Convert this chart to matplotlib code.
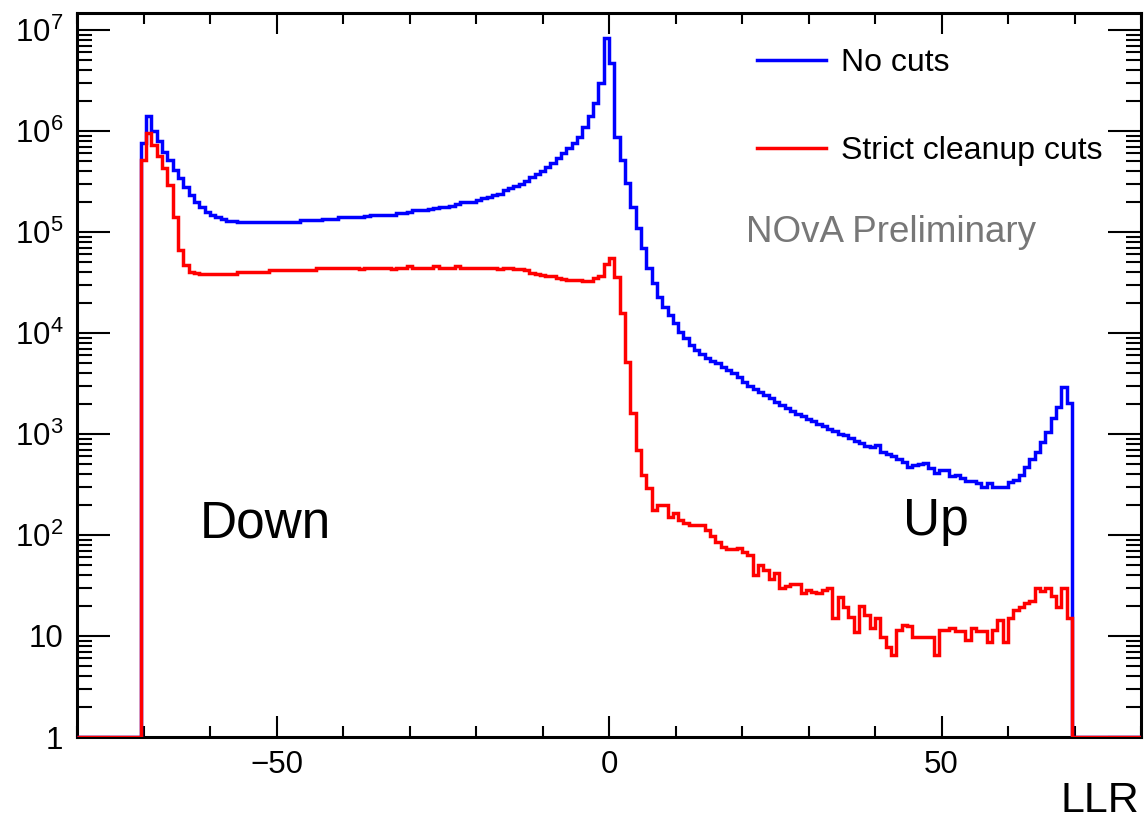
import matplotlib
matplotlib.use('Agg')
import matplotlib.pyplot as plt
import numpy as np
from matplotlib.lines import Line2D
from matplotlib.ticker import FixedLocator, FixedFormatter, LogLocator, NullFormatter

plt.rcParams['font.family'] = ['Liberation Sans', 'DejaVu Sans']
plt.rcParams['mathtext.fontset'] = 'custom'
plt.rcParams['mathtext.rm'] = 'Liberation Sans'
plt.rcParams['mathtext.it'] = 'Liberation Sans:italic'

# Binning: 200 bins of width 0.8 between -80 and 80, filled from bin 12 (-70.4) on
x_min, x_max, n_bins = -80, 80, 200
first_bin = 12

# Entries per bin, no cuts applied
no_cuts = [
    7.6e5, 1.39e6, 1.0e6, 8.0e5, 6.2e5, 5.1e5, 4.1e5, 3.4e5, 2.8e5, 2.3e5,
    2.0e5, 1.78e5, 1.59e5, 1.47e5, 1.40e5, 1.34e5, 1.29e5, 1.27e5, 1.25e5, 1.25e5,
    1.24e5, 1.24e5, 1.24e5, 1.24e5, 1.25e5, 1.25e5, 1.25e5, 1.25e5, 1.25e5, 1.26e5,
    1.30e5, 1.31e5, 1.31e5, 1.31e5, 1.33e5, 1.33e5, 1.34e5, 1.41e5, 1.42e5, 1.42e5,
    1.42e5, 1.42e5, 1.43e5, 1.46e5, 1.47e5, 1.47e5, 1.47e5, 1.48e5, 1.54e5, 1.55e5,
    1.56e5, 1.63e5, 1.65e5, 1.66e5, 1.70e5, 1.71e5, 1.77e5, 1.78e5, 1.80e5, 1.88e5,
    1.96e5, 1.98e5, 2.0e5, 2.07e5, 2.17e5, 2.22e5, 2.3e5, 2.4e5, 2.6e5, 2.75e5,
    2.85e5, 3.0e5, 3.22e5, 3.48e5, 3.75e5, 4.05e5, 4.43e5, 4.85e5, 5.37e5, 6.0e5,
    6.7e5, 7.55e5, 8.8e5, 1.1e6, 1.39e6, 1.88e6, 2.97e6, 8.27e6, 4.68e6, 8.8e5,
    5.2e5, 3.03e5, 1.78e5, 1.09e5, 6.9e4, 4.37e4, 3.1e4, 2.29e4, 1.82e4, 1.5e4,
    1.25e4, 1.03e4, 8.85e3, 7.6e3, 6.8e3, 6.2e3, 5.7e3, 5.3e3, 5.0e3, 4.6e3,
    4.3e3, 4.0e3, 3.65e3, 3.3e3, 3.0e3, 2.79e3, 2.61e3, 2.43e3, 2.27e3, 2.09e3,
    1.95e3, 1.81e3, 1.69e3, 1.56e3, 1.49e3, 1.41e3, 1.33e3, 1.26e3, 1.19e3, 1.12e3,
    1.07e3, 1.01e3, 970, 910, 860, 810, 760, 740, 780, 660,
    630, 600, 560, 530, 470, 490, 500, 510, 460, 410,
    440, 440, 384, 393, 364, 345, 345, 325, 300, 325,
    300, 300, 300, 337, 350, 393, 475, 560, 670, 840,
    1050, 1430, 1860, 2940, 2010,
]

# Entries per bin after the strict cleanup cuts
strict_cuts = [
    5.1e5, 9.5e5, 7.3e5, 5.6e5, 4.3e5, 2.9e5, 1.42e5, 6.6e4, 4.7e4, 4.05e4,
    3.9e4, 3.85e4, 3.84e4, 3.84e4, 3.84e4, 3.84e4, 3.84e4, 3.84e4, 4.05e4, 4.05e4,
    4.05e4, 4.05e4, 4.05e4, 4.05e4, 4.2e4, 4.2e4, 4.2e4, 4.2e4, 4.2e4, 4.2e4,
    4.2e4, 4.2e4, 4.2e4, 4.35e4, 4.35e4, 4.35e4, 4.35e4, 4.35e4, 4.35e4, 4.35e4,
    4.35e4, 4.3e4, 4.35e4, 4.35e4, 4.4e4, 4.35e4, 4.35e4, 4.3e4, 4.35e4, 4.35e4,
    4.6e4, 4.35e4, 4.35e4, 4.35e4, 4.35e4, 4.6e4, 4.35e4, 4.35e4, 4.35e4, 4.6e4,
    4.35e4, 4.35e4, 4.35e4, 4.35e4, 4.35e4, 4.35e4, 4.35e4, 4.3e4, 4.35e4, 4.35e4,
    4.3e4, 4.3e4, 4.2e4, 3.9e4, 3.85e4, 3.75e4, 3.7e4, 3.65e4, 3.5e4, 3.4e4,
    3.35e4, 3.35e4, 3.35e4, 3.25e4, 3.3e4, 3.5e4, 3.7e4, 4.8e4, 5.5e4, 3.6e4,
    1.57e4, 5.1e3, 1.6e3, 700, 390, 290, 176, 197, 197, 151,
    164, 140, 130, 125, 125, 125, 112, 97, 85, 76,
    72, 72, 74, 68, 63, 40, 50, 45, 37, 42,
    30, 31, 33, 33, 26.5, 28.5, 27.5, 26.5, 28.5, 30,
    15, 24.5, 19.5, 15.5, 11, 20, 16, 12, 15, 9.8,
    7.8, 6.5, 11.5, 12.8, 12.5, 9.8, 9.8, 9.8, 9.8, 6.5,
    11.5, 11.5, 12, 11.3, 11.3, 9.1, 12, 11.3, 11.3, 8.8,
    11.5, 14.4, 8.8, 15, 18.1, 19.5, 21, 22, 30, 28,
    30, 25, 19.5, 29.6, 15,
]

series_labels = ['No cuts', 'Strict cleanup cuts']
series_colors = ['#0000ff', '#ff0000']

x_major = [-50, 0, 50]
x_major_labels = ['\u221250', '0', '50']
y_major = [1, 10, 1e2, 1e3, 1e4, 1e5, 1e6, 1e7]
y_major_labels = ['1', '10'] + ['$\\mathregular{10^{%d}}$' % k for k in range(2, 8)]
y_top = 1.48e7

edges = np.linspace(x_min, x_max, n_bins + 1)


def filled(values):
    # empty bins sit on the floor of the log axis, as in ROOT
    h = np.ones(n_bins)
    h[first_bin:first_bin + len(values)] = values
    return h


fig = plt.figure(figsize=(11.44, 8.22), dpi=100)
ax = fig.add_axes([77 / 1144, 1 - 737 / 822, 1064 / 1144, (737 - 12.7) / 822])

for i, vals in enumerate([no_cuts, strict_cuts]):
    ax.stairs(filled(vals), edges, baseline=None, color=series_colors[i],
              linewidth=2.5, zorder=3 + i)

ax.set_yscale('log')
ax.set_xlim(x_min, x_max)
ax.set_ylim(1, y_top)

ax.xaxis.set_major_locator(FixedLocator(x_major))
ax.xaxis.set_major_formatter(FixedFormatter(x_major_labels))
ax.xaxis.set_minor_locator(FixedLocator(np.arange(-80, 81, 10)))
ax.yaxis.set_major_locator(FixedLocator(y_major))
ax.yaxis.set_major_formatter(FixedFormatter(y_major_labels))
ax.yaxis.set_minor_locator(LogLocator(base=10, subs=np.arange(2, 10)))
ax.yaxis.set_minor_formatter(NullFormatter())

ax.tick_params(which='both', direction='in', top=True, right=True,
               labelsize=22.5, width=1.5, color='black')
ax.tick_params(axis='y', which='major', length=24, pad=10)
ax.tick_params(axis='y', which='minor', length=11)
ax.tick_params(axis='x', which='major', length=15, pad=9)
ax.tick_params(axis='x', which='minor', length=8)
for s in ax.spines.values():
    s.set_linewidth(2.2)

handles = [Line2D([], [], color=c, linewidth=2.5) for c in series_colors]
ax.legend(handles, series_labels, loc='upper left',
          bbox_to_anchor=(757 / 1144, 1 - 48 / 822), bbox_transform=fig.transFigure,
          frameon=False, fontsize=23, handlelength=2.15, handletextpad=0.47,
          labelspacing=1.82, borderpad=0, borderaxespad=0)

fig.text(746 / 1144, 1 - 242 / 822, 'NOvA Preliminary', fontsize=26.5,
         color='#777777', va='baseline')
fig.text(200 / 1144, 1 - 537 / 822, 'Down', fontsize=37, va='baseline')
fig.text(903 / 1144, 1 - 535 / 822, 'Up', fontsize=37, va='baseline')
fig.text(1139 / 1144, 1.5 / 822, 'LLR', fontsize=31, ha='right', va='bottom')

fig.savefig('out.png', dpi=100)
